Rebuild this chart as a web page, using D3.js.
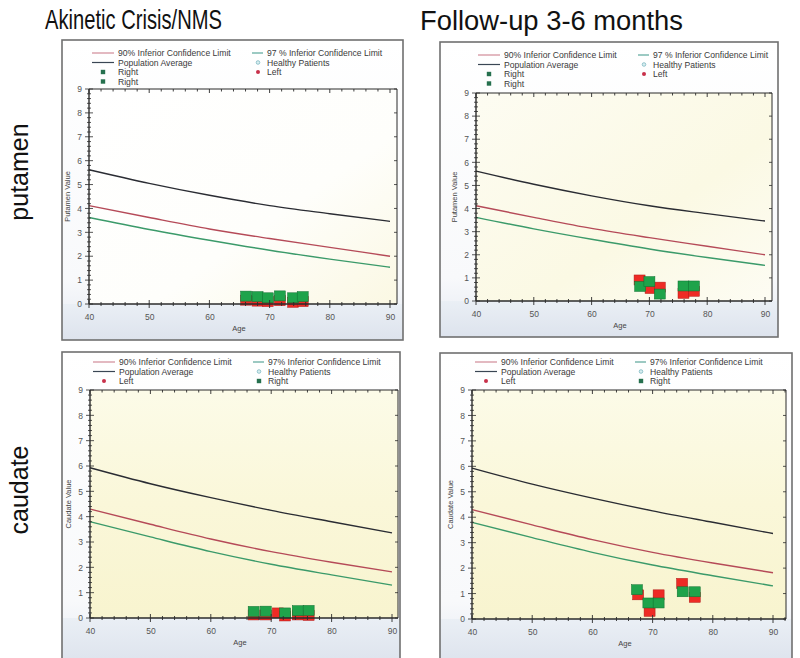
<!DOCTYPE html>
<html><head><meta charset="utf-8">
<script src="https://cdn.jsdelivr.net/npm/d3@7"></script>
<style>body{margin:0;background:#fff}svg{display:block;font-family:"Liberation Sans",Arial,sans-serif}</style>
</head><body><svg id="c" width="800" height="658"></svg>
<script>
// ---------- data ----------
const curveAges = [40, 50, 60, 70, 80, 90];
const putamenAverage = [5.62, 5.05, 4.55, 4.12, 3.78, 3.46];
const putamenLimit90 = [4.12, 3.62, 3.14, 2.74, 2.37, 2.0];
const putamenLimit97 = [3.62, 3.12, 2.67, 2.25, 1.88, 1.54];
const caudateAverage = [5.93, 5.3, 4.75, 4.25, 3.8, 3.36];
const caudateLimit90 = [4.3, 3.7, 3.12, 2.62, 2.2, 1.82];
const caudateLimit97 = [3.8, 3.2, 2.62, 2.12, 1.7, 1.3];

const nmsPutamenRightAge = [66.1, 68.0, 69.7, 71.7, 73.9, 75.5];
const nmsPutamenRightVal = [0.33, 0.31, 0.26, 0.34, 0.26, 0.31];
const nmsPutamenLeftAge  = [66.1, 68.0, 69.7, 71.7, 73.9, 75.5];
const nmsPutamenLeftVal  = [0.16, 0.12, 0.1, 0.14, 0.07, 0.1];

const fuPutamenRightAge = [68.4, 70.0, 71.8, 75.9, 77.7];
const fuPutamenRightVal = [0.63, 0.84, 0.3, 0.65, 0.65];
const fuPutamenLeftAge  = [68.3, 70.2, 71.8, 75.9, 77.7];
const fuPutamenLeftVal  = [0.91, 0.54, 0.6, 0.33, 0.42];

const nmsCaudateRightAge = [67.1, 69.1, 72.3, 74.4, 76.2];
const nmsCaudateRightVal = [0.26, 0.27, 0.2, 0.29, 0.3];
const nmsCaudateLeftAge  = [67.1, 69.1, 71.1, 72.3, 74.4, 76.2];
const nmsCaudateLeftVal  = [0.12, 0.12, 0.2, 0.08, 0.12, 0.1];

const fuCaudateRightAge = [67.4, 69.3, 71.0, 75.0, 77.0];
const fuCaudateRightVal = [1.15, 0.63, 0.63, 1.07, 1.07];
const fuCaudateLeftAge  = [67.6, 69.5, 71.0, 74.9, 77.0];
const fuCaudateLeftVal  = [0.95, 0.3, 0.95, 1.4, 0.85];

const xTicks = [40, 50, 60, 70, 80, 90];
const yTicks = [0, 1, 2, 3, 4, 5, 6, 7, 8, 9];
const columnTitles = ["Akinetic Crisis/NMS", "Follow-up 3-6 months"];
const rowTitles = ["putamen", "caudate"];

const legendTop = [
  {kind: "line", series: "l90", label: "90% Inferior Confidence Limit", col: 0, row: 0},
  {kind: "line", series: "l97", label: "97 % Inferior Confidence Limit", col: 1, row: 0},
  {kind: "line", series: "avg", label: "Population Average", col: 0, row: 1},
  {kind: "circle", label: "Healthy Patients", col: 1, row: 1},
  {kind: "square", label: "Right", col: 0, row: 2},
  {kind: "dot", label: "Left", col: 1, row: 2},
  {kind: "square", label: "Right", col: 0, row: 3}
];
const legendBottom = [
  {kind: "line", series: "l90", label: "90% Inferior Confidence Limit", col: 0, row: 0},
  {kind: "line", series: "l97", label: "97% Inferior Confidence Limit", col: 1, row: 0},
  {kind: "line", series: "avg", label: "Population Average", col: 0, row: 1},
  {kind: "circle", label: "Healthy Patients", col: 1, row: 1},
  {kind: "dot", label: "Left", col: 0, row: 2},
  {kind: "square", label: "Right", col: 1, row: 2}
];

// ---------- layout / style ----------
const colors = {avg: "#2a2c33", l90: "#b54a58", l97: "#3b9a6a",
  legAvg: "#3a4654", leg90: "#d08a98", leg97: "#5aa69a",
  green: "#1fa34b", red: "#ee2b25"};

const panels = [
  {box: [62, 40, 403, 340], x40: 89, x90: 390, xRight: 397, yTop: 89, yBot: 304, legY: 53, legX: 89,
   yLabel: "Putamen Value", avg: putamenAverage, l90: putamenLimit90, l97: putamenLimit97,
   right: [nmsPutamenRightAge, nmsPutamenRightVal], left: [nmsPutamenLeftAge, nmsPutamenLeftVal], legend: legendTop, bg: "gTop"},
  {box: [440, 42, 778, 337], x40: 476, x90: 765, xRight: 772, yTop: 93, yBot: 301, legY: 55, legX: 475,
   yLabel: "Putamen Value", avg: putamenAverage, l90: putamenLimit90, l97: putamenLimit97,
   right: [fuPutamenRightAge, fuPutamenRightVal], left: [fuPutamenLeftAge, fuPutamenLeftVal], legend: legendTop, bg: "gTop2"},
  {box: [62, 352, 400, 664], x40: 90, x90: 392, xRight: 398, yTop: 390, yBot: 618, legY: 362, legX: 90,
   yLabel: "Caudate Value", avg: caudateAverage, l90: caudateLimit90, l97: caudateLimit97,
   right: [nmsCaudateRightAge, nmsCaudateRightVal], left: [nmsCaudateLeftAge, nmsCaudateLeftVal], legend: legendBottom, bg: "gBot"},
  {box: [440, 353, 792, 664], x40: 472, x90: 773, xRight: 786, yTop: 390, yBot: 619, legY: 362, legX: 472,
   yLabel: "Caudate Value", avg: caudateAverage, l90: caudateLimit90, l97: caudateLimit97,
   right: [fuCaudateRightAge, fuCaudateRightVal], left: [fuCaudateLeftAge, fuCaudateLeftVal], legend: legendBottom, bg: "gBot"}
];

const svg = d3.select("#c");
const defs = svg.append("defs");
function grad(id, stops, x2, y2) {
  const g = defs.append("linearGradient").attr("id", id)
    .attr("x1", 0).attr("y1", 0).attr("x2", x2).attr("y2", y2);
  stops.forEach(s => g.append("stop").attr("offset", s[0]).attr("stop-color", s[1]));
}
grad("gTop", [[0, "#ffffff"], [0.6, "#fefefb"], [1, "#fbf8e3"]], 1, 1);
grad("gTop2", [[0, "#fdfcf2"], [0.6, "#fbf9e4"], [1, "#fdfcf3"]], 1, 1);
grad("gBot", [[0, "#fcfbe8"], [0.5, "#faf7d9"], [1, "#f8f4cf"]], 0, 1);
grad("gPanel", [[0, "#ffffff"], [0.8, "#f8f9fb"], [1, "#e4e9f2"]], 0, 1);
grad("gUnder", [[0, "#eaeff5"], [1, "#dde3ed"]], 0, 1);

// titles
svg.append("text").attr("x", 45).attr("y", 29).attr("font-size", 28)
  .attr("textLength", 177).attr("lengthAdjust", "spacingAndGlyphs").attr("fill", "#111").text(columnTitles[0]);
svg.append("text").attr("x", 420).attr("y", 30).attr("font-size", 27)
  .attr("textLength", 263).attr("lengthAdjust", "spacingAndGlyphs").attr("fill", "#111").text(columnTitles[1]);
svg.append("text").attr("transform", "translate(28,172) rotate(-90)").attr("text-anchor", "middle")
  .attr("font-size", 25).attr("fill", "#111").text(rowTitles[0]);
svg.append("text").attr("transform", "translate(28,490) rotate(-90)").attr("text-anchor", "middle")
  .attr("font-size", 25).attr("fill", "#111").text(rowTitles[1]);

panels.forEach(p => {
  const g = svg.append("g");
  const [bx0, by0, bx1, by1] = p.box;
  const x = d3.scaleLinear().domain([40, 90]).range([p.x40, p.x90]);
  const y = d3.scaleLinear().domain([0, 9]).range([p.yBot, p.yTop]);
  const xMax = x.invert(p.xRight);

  // panel background
  g.append("rect").attr("x", bx0).attr("y", by0).attr("width", bx1 - bx0).attr("height", by1 - by0)
    .attr("fill", "url(#gPanel)");
  g.append("rect").attr("x", bx0).attr("y", p.yBot).attr("width", bx1 - bx0).attr("height", by1 - p.yBot)
    .attr("fill", "url(#gUnder)");
  // plot area
  g.append("rect").attr("x", x(40)).attr("y", y(9)).attr("width", x(xMax) - x(40)).attr("height", y(0) - y(9))
    .attr("fill", `url(#${p.bg})`);

  // curves
  const line = d3.line().x(d => x(d[0])).y(d => y(d[1])).curve(d3.curveMonotoneX);
  [["avg", colors.avg], ["l90", colors.l90], ["l97", colors.l97]].forEach(([k, c]) => {
    g.append("path").datum(curveAges.map((a, i) => [a, p[k][i]]))
      .attr("d", line).attr("fill", "none").attr("stroke", c).attr("stroke-width", 1.4);
  });

  // patient squares
  const sq = (ages, vals, color, stroke) => {
    g.append("g").selectAll("rect").data(ages.map((a, i) => [a, vals[i]])).join("rect")
      .attr("x", d => x(d[0]) - 5.5).attr("y", d => y(d[1]) - 5).attr("width", 11).attr("height", 10)
      .attr("fill", color).attr("stroke", stroke).attr("stroke-width", 0.5);
  };
  sq(p.left[0], p.left[1], colors.red, "#b01818");
  sq(p.right[0], p.right[1], colors.green, "#0f6e30");

  // frame
  const fr = g.append("g").attr("stroke", "#2b2b2b").attr("fill", "none");
  fr.append("line").attr("x1", x(40)).attr("x2", x(xMax)).attr("y1", y(0)).attr("y2", y(0)).attr("stroke-width", 1.4);
  fr.append("line").attr("x1", x(40)).attr("x2", x(40)).attr("y1", y(0)).attr("y2", y(9)).attr("stroke-width", 1.4);
  fr.append("line").attr("x1", x(40)).attr("x2", x(xMax)).attr("y1", y(9)).attr("y2", y(9)).attr("stroke-width", 1);
  fr.append("line").attr("x1", x(xMax)).attr("x2", x(xMax)).attr("y1", y(0)).attr("y2", y(9)).attr("stroke-width", 1);

  const xMinor = d3.range(40, xMax + 0.01, 2);
  const yMinor = d3.range(0, 9.001, 0.2);
  fr.selectAll(".xb").data(xMinor).join("line")
    .attr("x1", d => x(d)).attr("x2", d => x(d))
    .attr("y1", d => y(0) - (d % 10 === 0 ? 4 : 2)).attr("y2", d => y(0) + (d % 10 === 0 ? 4 : 2)).attr("stroke-width", 0.9);
  fr.selectAll(".xt").data(xMinor).join("line")
    .attr("x1", d => x(d)).attr("x2", d => x(d))
    .attr("y1", y(9)).attr("y2", d => y(9) + (d % 10 === 0 ? 4 : 2.5)).attr("stroke-width", 0.9);
  fr.selectAll(".yl").data(yMinor).join("line")
    .attr("y1", d => y(d)).attr("y2", d => y(d))
    .attr("x1", d => x(40) - (Math.abs(d - Math.round(d)) < 1e-6 ? 4 : 2))
    .attr("x2", d => x(40) + (Math.abs(d - Math.round(d)) < 1e-6 ? 4 : 2)).attr("stroke-width", 0.8);
  fr.selectAll(".yr").data(yTicks).join("line")
    .attr("y1", d => y(d)).attr("y2", d => y(d))
    .attr("x1", x(xMax) - 3).attr("x2", x(xMax)).attr("stroke-width", 0.8);

  // axes labels via d3 axes
  const ax = g.append("g").attr("transform", `translate(0,${y(0)})`)
    .call(d3.axisBottom(x).tickValues(xTicks).tickSize(0).tickPadding(10));
  ax.select(".domain").remove();
  ax.selectAll("text").attr("font-size", 8.5).attr("fill", "#555").attr("font-family", "Liberation Sans, Arial");
  const ay = g.append("g").attr("transform", `translate(${x(40)},0)`)
    .call(d3.axisLeft(y).tickValues(yTicks).tickSize(0).tickPadding(7));
  ay.select(".domain").remove();
  ay.selectAll("text").attr("font-size", 8.5).attr("fill", "#555").attr("font-family", "Liberation Sans, Arial");

  g.append("text").attr("x", (x(40) + x(xMax)) / 2 - 4).attr("y", y(0) + 27).attr("text-anchor", "middle")
    .attr("font-size", 7.5).attr("fill", "#444").text("Age");
  g.append("text").attr("transform", `translate(${x(40) - 19},${(y(0) + y(9)) / 2}) rotate(-90)`)
    .attr("text-anchor", "middle").attr("font-size", 7.5).attr("fill", "#444").text(p.yLabel);

  // legend
  const lg = g.append("g").attr("font-size", 8.6).attr("fill", "#3a3a3a");
  p.legend.forEach(e => {
    const tx = p.legX + (e.col === 0 ? 29 : 178);
    const cy = p.legY + e.row * 9.5;
    const mx = e.col === 0 ? tx - 15 : tx - 9;
    if (e.kind === "line") {
      const c = e.series === "avg" ? colors.legAvg : e.series === "l90" ? colors.leg90 : colors.leg97;
      const x1 = e.col === 0 ? tx - 26 : tx - 15;
      lg.append("line").attr("x1", x1).attr("x2", tx - 4).attr("y1", cy).attr("y2", cy)
        .attr("stroke", c).attr("stroke-width", 1.2);
    } else if (e.kind === "circle") {
      lg.append("circle").attr("cx", mx).attr("cy", cy).attr("r", 1.8).attr("fill", "#d8eef0")
        .attr("stroke", "#7db7c2").attr("stroke-width", 0.8);
    } else if (e.kind === "dot") {
      lg.append("circle").attr("cx", mx).attr("cy", cy).attr("r", 2).attr("fill", "#c8304a");
    } else {
      lg.append("rect").attr("x", mx - 2.2).attr("y", cy - 2.2).attr("width", 4.4).attr("height", 4.4)
        .attr("fill", "#25704e");
    }
    lg.append("text").attr("x", tx).attr("y", cy).attr("dy", "0.35em").text(e.label);
  });

  // panel border
  g.append("rect").attr("x", bx0).attr("y", by0).attr("width", bx1 - bx0).attr("height", by1 - by0)
    .attr("fill", "none").attr("stroke", "#707070").attr("stroke-width", 1.6);
});
</script>
</body></html>
